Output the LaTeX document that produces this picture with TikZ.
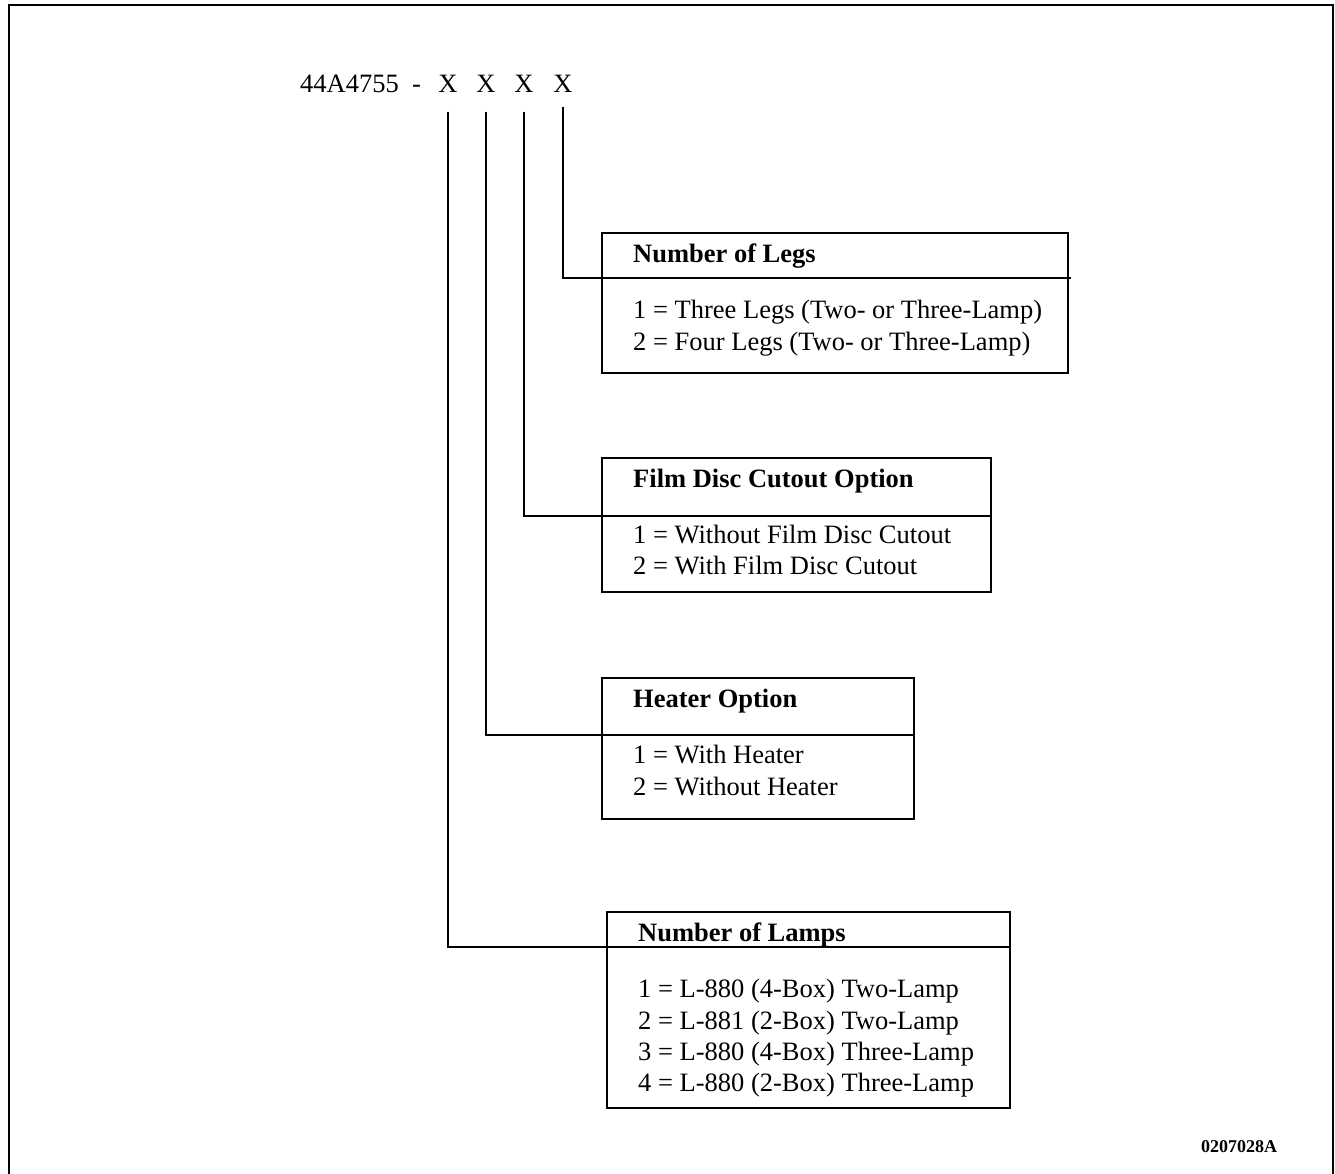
\documentclass[tikz,border=0pt]{standalone}
\usepackage{fontspec}
\setmainfont{Liberation Serif}
\usetikzlibrary{calc,positioning}

\begin{document}
\begin{tikzpicture}[x=1pt,y=-1pt]

\tikzset{
frame/.style={draw=black,line width=2.6pt},
box/.style={draw=black,line width=1.6pt,anchor=north west,inner sep=0pt},
rule/.style={draw=black,line width=1.6pt},
link/.style={draw=black,line width=1.6pt},
txt/.style={anchor=base west,inner sep=0pt,font=\fontsize{26.5}{31.5}\selectfont},
head/.style={txt,font=\fontsize{26.5}{31.5}\selectfont\bfseries},
digit/.style={txt,anchor=base}
}

\useasboundingbox (0,0) rectangle (1335,1174);

% Frame
\draw[frame] (9,1200) -- (9,5) -- (1333,5) -- (1333,1200);

% Nodes
\node[txt] (code) at (300,93) {44A4755 \ -};
\node[digit] (x1) at (448,93) {X};
\node[digit] (x2) at (486,93) {X};
\node[digit] (x3) at (524,93) {X};
\node[digit] (x4) at (563,93) {X};

\coordinate (x1s) at ([yshift=-19pt]x1.base);
\coordinate (x2s) at ([yshift=-19pt]x2.base);
\coordinate (x3s) at ([yshift=-19pt]x3.base);
\coordinate (x4s) at ([yshift=-14pt]x4.base);

% Boxes
\node[box,minimum width=466pt,minimum height=140pt] (legs) at (601,232) {};
\node[box,minimum width=389pt,minimum height=134pt] (film) at (601,457) {};
\node[box,minimum width=312pt,minimum height=141pt] (heat) at (601,677) {};
\node[box,minimum width=403pt,minimum height=196pt] (lamps) at (606,911) {};

\coordinate (legsdiv) at (601,278);
\coordinate (filmdiv) at (601,516);
\coordinate (heatdiv) at (601,735);
\coordinate (lampsdiv) at (606,947);

\draw[rule] (legsdiv) -- (1071,278);
\draw[rule] (filmdiv) -- (film.east |- filmdiv);
\draw[rule] (heatdiv) -- (heat.east |- heatdiv);
\draw[rule] (lampsdiv) -- (lamps.east |- lampsdiv);

% Connectors
\draw[link] (x4s) |- (legsdiv);
\draw[link] (x3s) |- (filmdiv);
\draw[link] (x2s) |- (heatdiv);
\draw[link] (x1s) |- (lampsdiv);

% Labels
\node[head] (legshead) at (633,262) {Number of Legs};
\node[txt] (legs1) at (633,318) {1 = Three Legs (Two- or Three-Lamp)};
\node[txt] (legs2) at (633,350) {2 = Four Legs (Two- or Three-Lamp)};

\node[head] (filmhead) at (633,487) {Film Disc Cutout Option};
\node[txt] (film1) at (633,543) {1 = Without Film Disc Cutout};
\node[txt] (film2) at (633,574) {2 = With Film Disc Cutout};

\node[head] (heathead) at (633,707) {Heater Option};
\node[txt] (heat1) at (633,763) {1 = With Heater};
\node[txt] (heat2) at (633,795) {2 = Without Heater};

\node[head] (lampshead) at (638,941) {Number of Lamps};
\node[txt] (lamps1) at (638,997) {1 = L-880 (4-Box) Two-Lamp};
\node[txt] (lamps2) at (638,1029) {2 = L-881 (2-Box) Two-Lamp};
\node[txt] (lamps3) at (638,1060) {3 = L-880 (4-Box) Three-Lamp};
\node[txt] (lamps4) at (638,1091) {4 = L-880 (2-Box) Three-Lamp};

\node[txt,font=\fontsize{18}{20}\selectfont\bfseries] (fig) at (1201,1152) {0207028A};

\end{tikzpicture}
\end{document}
